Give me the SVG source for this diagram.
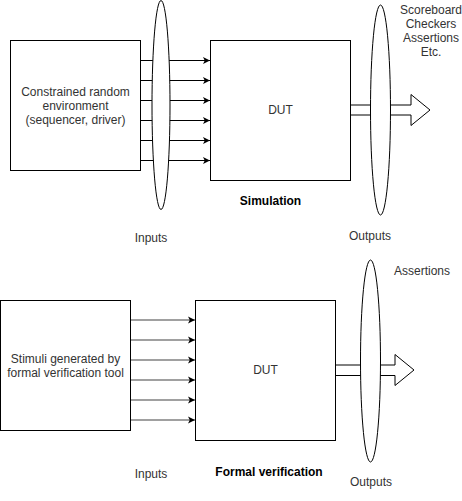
<svg xmlns="http://www.w3.org/2000/svg" width="462" height="501" viewBox="0 0 462 501">
<style>
.box{fill:#fff;stroke:#000;stroke-width:1}
.ell{fill:#fff;stroke:#000;stroke-width:1}
.t{font-family:"Liberation Sans",Arial,sans-serif;font-size:12px;fill:#333;text-anchor:middle}
.b{font-weight:bold;fill:#000}
.in{stroke:#000;stroke-width:1;fill:none;marker-end:url(#ah)}
.in2{stroke:#808080;stroke-width:1.5;fill:none;marker-end:url(#ah)}
.big{fill:#fff;stroke:#000;stroke-width:1}
</style>
<defs>
<marker id="ah" markerWidth="8" markerHeight="8" refX="7" refY="4" orient="auto" markerUnits="userSpaceOnUse">
<path d="M0,0.5 L7,4 L0,7.5 L1.75,4 Z" fill="#000"/>
</marker>
</defs>
<g id="connectors">
<path class="in" d="M140,60.5 H210"/>
<path class="in" d="M140,80.5 H210"/>
<path class="in" d="M140,100.5 H210"/>
<path class="in" d="M140,120.5 H210"/>
<path class="in" d="M140,140.5 H210"/>
<path class="in" d="M140,160.5 H210"/>
<path class="big" d="M350.5,105 H411 V94.5 L430,110 L411,125.5 V115 H350.5 Z"/>
<path class="in2" d="M130,320 H195"/>
<path class="in2" d="M130,340 H195"/>
<path class="in2" d="M130,360 H195"/>
<path class="in2" d="M130,380 H195"/>
<path class="in2" d="M130,400 H195"/>
<path class="in2" d="M130,420 H195"/>
<path class="big" d="M335.5,365 H395 V354.5 L414,370 L395,385.5 V375.5 H335.5 Z"/>
</g>
<g id="env">
<rect class="box" x="10.5" y="40.5" width="130" height="130"/>
<text class="t" x="75.5" y="96">Constrained random</text>
<text class="t" x="75.5" y="110">environment</text>
<text class="t" x="75.5" y="124">(sequencer, driver)</text>
</g>
<g id="inputs1">
<ellipse class="ell" cx="161" cy="105" rx="9" ry="104.5"/>
</g>
<g id="dut1">
<rect class="box" x="210.5" y="40.5" width="140" height="140"/>
<text class="t" x="280.5" y="114">DUT</text>
</g>
<g id="outputs1">
<ellipse class="ell" cx="380.5" cy="110" rx="10" ry="105"/>
</g>
<g id="checkers">
<text class="t" x="431" y="14">Scoreboard</text>
<text class="t" x="431" y="28">Checkers</text>
<text class="t" x="431" y="42">Assertions</text>
<text class="t" x="431" y="56">Etc.</text>
</g>
<g id="sim-label"><text class="t b" x="270.5" y="205">Simulation</text></g>
<g id="inputs1-label"><text class="t" x="151" y="242">Inputs</text></g>
<g id="outputs1-label"><text class="t" x="370" y="240">Outputs</text></g>
<g id="stimuli">
<rect class="box" x="0.5" y="300.5" width="130" height="130"/>
<text class="t" x="65.5" y="363">Stimuli generated by</text>
<text class="t" x="65.5" y="377">formal verification tool</text>
</g>
<g id="dut2">
<rect class="box" x="195.5" y="300.5" width="140" height="140"/>
<text class="t" x="265.5" y="374">DUT</text>
</g>
<g id="outputs2">
<ellipse class="ell" cx="370.5" cy="361" rx="10" ry="101"/>
</g>
<g id="assertions"><text class="t" x="422" y="275">Assertions</text></g>
<g id="formal-label"><text class="t b" x="269" y="476">Formal verification</text></g>
<g id="inputs2-label"><text class="t" x="151" y="478">Inputs</text></g>
<g id="outputs2-label"><text class="t" x="371" y="486">Outputs</text></g>
</svg>
